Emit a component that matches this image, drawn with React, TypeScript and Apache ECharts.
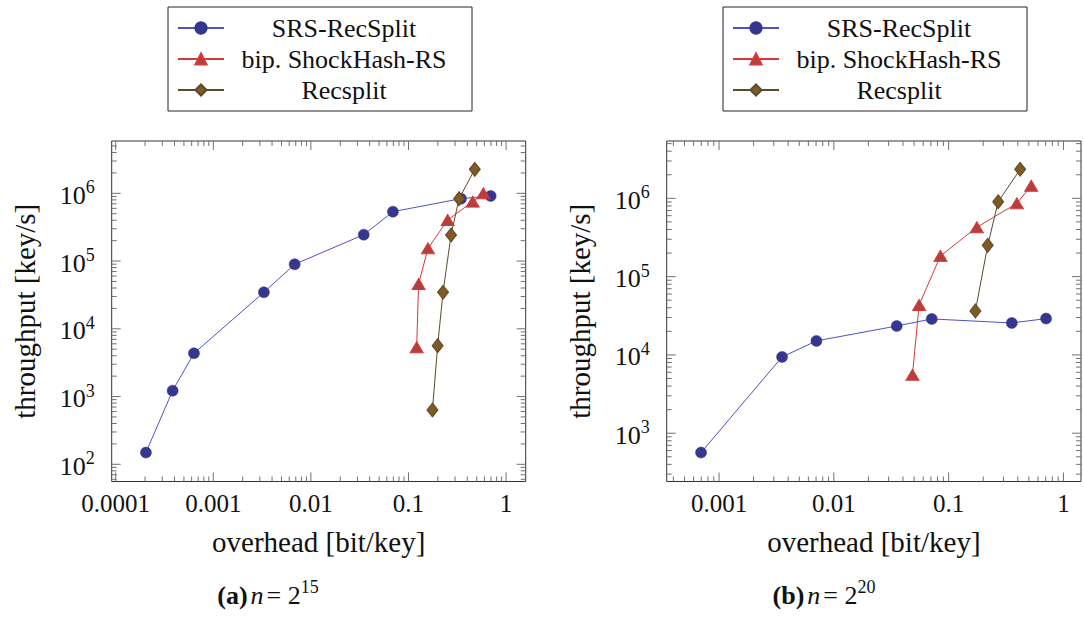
import React, { useEffect, useRef } from "react";
import * as echarts from "echarts";

// ---- series data: overhead [bit/key] vs throughput [key/s] ----
const seriesNames = ["SRS-RecSplit", "bip. ShockHash-RS", "Recsplit"];

// n = 2^15
const leftSrsX = [0.000204, 0.000383, 0.000634, 0.0033, 0.00682, 0.0348, 0.0693, 0.345, 0.695];
const leftSrsY = [149, 1222, 4350, 34600, 89600, 245000, 536000, 834000, 914000];
const leftShX = [0.1213, 0.127, 0.1585, 0.252, 0.455, 0.585];
const leftShY = [5330, 45900, 154000, 404000, 753000, 1000000];
const leftRsX = [0.176, 0.199, 0.226, 0.273, 0.33, 0.478];
const leftRsY = [634, 5640, 34600, 243000, 834000, 2260000];

// n = 2^20
const rightSrsX = [0.000697, 0.00354, 0.00705, 0.0353, 0.0713, 0.355, 0.706];
const rightSrsY = [566, 9420, 15100, 23400, 28800, 25600, 29100];
const rightShX = [0.0484, 0.0553, 0.0849, 0.176, 0.393, 0.524];
const rightShY = [5560, 43500, 184000, 427000, 863000, 1450000];
const rightRsX = [0.171, 0.219, 0.27, 0.42];
const rightRsY = [36500, 251000, 906000, 2350000];

// axis ranges
const leftXRange = [9.1e-5, 1.589];
const leftYRange = [55.7, 5.92e6];
const rightXRange = [3.5e-4, 1.422];
const rightYRange = [241.6, 5.4e6];

const captions = [
  { tag: "(a)", exp: "15" },
  { tag: "(b)", exp: "20" },
];

const FONT = "Liberation Serif";

const pairs = (xs: number[], ys: number[]) => xs.map((x, i) => [x, ys[i]]);

// decade (major) and 2..9 (minor) positions on a log axis
function logTicks(range: number[]) {
  const lo = Math.log10(range[0]);
  const hi = Math.log10(range[1]);
  const out: number[][] = [];
  for (let d = Math.floor(lo); d <= Math.ceil(hi); d++) {
    for (let k = 1; k <= 9; k++) {
      const v = k * Math.pow(10, d);
      const lv = Math.log10(v);
      if (lv < lo || lv > hi) continue;
      out.push([v, k === 1 ? 1 : 0]);
    }
  }
  return out;
}

const TICK_COLOR = "#707070";

function xTickSeries(idx: number, xr: number[], yr: number[]) {
  const yRef = Math.sqrt(yr[0] * yr[1]);
  return {
    type: "custom",
    xAxisIndex: idx,
    yAxisIndex: idx,
    silent: true,
    z: 1,
    encode: { x: 0, y: 1 },
    data: logTicks(xr).map(([v, m]) => [v, yRef, m]),
    renderItem: (params: any, api: any) => {
      const cs = params.coordSys;
      const px = api.coord([api.value(0), yRef])[0];
      const len = api.value(2) ? 9 : 5;
      const bottom = cs.y + cs.height;
      const style = { stroke: TICK_COLOR, lineWidth: 1 };
      return {
        type: "group",
        children: [
          { type: "line", shape: { x1: px, y1: bottom, x2: px, y2: bottom - len }, style },
          { type: "line", shape: { x1: px, y1: cs.y, x2: px, y2: cs.y + len }, style },
        ],
      };
    },
  };
}

function yTickSeries(idx: number, xr: number[], yr: number[]) {
  const xRef = Math.sqrt(xr[0] * xr[1]);
  return {
    type: "custom",
    xAxisIndex: idx,
    yAxisIndex: idx,
    silent: true,
    z: 1,
    encode: { x: 0, y: 1 },
    data: logTicks(yr).map(([v, m]) => [xRef, v, m]),
    renderItem: (params: any, api: any) => {
      const cs = params.coordSys;
      const py = api.coord([xRef, api.value(1)])[1];
      const len = api.value(2) ? 9 : 5;
      const right = cs.x + cs.width;
      const style = { stroke: TICK_COLOR, lineWidth: 1 };
      return {
        type: "group",
        children: [
          { type: "line", shape: { x1: cs.x, y1: py, x2: cs.x + len, y2: py }, style },
          { type: "line", shape: { x1: right, y1: py, x2: right - len, y2: py }, style },
        ],
      };
    },
  };
}

const styles = [
  {
    symbol: "circle",
    symbolSize: 11,
    lineStyle: { color: "#4f53c0", width: 1 },
    itemStyle: { color: "#35378f", borderColor: "#35378f", borderWidth: 0.5 },
  },
  {
    symbol: "triangle",
    symbolSize: [13, 11],
    lineStyle: { color: "#d6383c", width: 1 },
    itemStyle: { color: "#b3403a", borderColor: "#d6383c", borderWidth: 1 },
  },
  {
    symbol: "diamond",
    symbolSize: [11, 14],
    lineStyle: { color: "#5c4a2c", width: 1 },
    itemStyle: { color: "#7f5a22", borderColor: "#5c4a2c", borderWidth: 1 },
  },
];

function lineSeries(idx: number, k: number, data: number[][]) {
  return {
    type: "line",
    name: seriesNames[k],
    xAxisIndex: idx,
    yAxisIndex: idx,
    data,
    z: 3,
    showSymbol: true,
    ...styles[k],
  };
}

const xLabel = (v: number) => {
  const e = Math.round(Math.log10(v));
  return e >= 0 ? String(Math.pow(10, e)) : "0." + "0".repeat(-e - 1) + "1";
};
const yLabel = (v: number) => `{b|10}{s|${Math.round(Math.log10(v))}}`;

function xAxis(idx: number, range: number[]) {
  return {
    type: "log",
    logBase: 10,
    gridIndex: idx,
    min: range[0],
    max: range[1],
    name: "overhead [bit/key]",
    nameLocation: "middle",
    nameGap: 46,
    nameTextStyle: { fontFamily: FONT, fontSize: 29, color: "#111" },
    axisLine: { show: false },
    axisTick: { show: false },
    splitLine: { show: false },
    axisLabel: {
      showMinLabel: false,
      showMaxLabel: false,
      margin: 9,
      fontFamily: FONT,
      fontSize: 25,
      color: "#111",
      formatter: xLabel,
    },
  };
}

function yAxis(idx: number, range: number[]) {
  return {
    type: "log",
    logBase: 10,
    gridIndex: idx,
    min: range[0],
    max: range[1],
    name: "throughput [key/s]",
    nameLocation: "middle",
    nameGap: 72,
    nameTextStyle: { fontFamily: FONT, fontSize: 29, color: "#111" },
    axisLine: { show: false },
    axisTick: { show: false },
    splitLine: { show: false },
    axisLabel: {
      showMinLabel: false,
      showMaxLabel: false,
      margin: 17,
      color: "#111",
      fontFamily: FONT,
      formatter: yLabel,
      rich: {
        b: { fontFamily: FONT, fontSize: 26, color: "#111", verticalAlign: "bottom", lineHeight: 30 },
        s: { fontFamily: FONT, fontSize: 18, color: "#111", verticalAlign: "top", lineHeight: 30 },
      },
    },
  };
}

function legend(left: number) {
  return {
    left,
    top: 7,
    orient: "vertical",
    itemWidth: 46,
    itemHeight: 14,
    itemGap: 5,
    padding: [8, 13, 8, 9],
    borderColor: "#222",
    borderWidth: 1,
    selectedMode: false,
    data: seriesNames,
    formatter: (n: string) => `{c|${n}}`,
    textStyle: {
      fontFamily: FONT,
      rich: {
        c: { width: 230, align: "center", fontFamily: FONT, fontSize: 26, lineHeight: 30, color: "#111" },
      },
    },
  };
}

function caption(x: number, c: { tag: string; exp: string }) {
  return {
    type: "text",
    x,
    y: 593,
    style: {
      text: `{b|${c.tag}} {i|n} {r|= 2}{s|${c.exp}}`,
      align: "center",
      verticalAlign: "middle",
      fontFamily: FONT,
      rich: {
        b: { fontFamily: FONT, fontSize: 26, fontWeight: "bold", fill: "#111", verticalAlign: "bottom", lineHeight: 30 },
        i: { fontFamily: FONT, fontSize: 26, fontStyle: "italic", fill: "#111", verticalAlign: "bottom", lineHeight: 30 },
        r: { fontFamily: FONT, fontSize: 26, fill: "#111", verticalAlign: "bottom", lineHeight: 30 },
        s: { fontFamily: FONT, fontSize: 18, fill: "#111", verticalAlign: "top", lineHeight: 30 },
      },
    },
  };
}

export default function App() {
  const ref = useRef<HTMLDivElement>(null);

  useEffect(() => {
    if (!ref.current) return;
    const chart = echarts.init(ref.current, undefined, { renderer: "svg" });
    chart.setOption({
      animation: false,
      backgroundColor: "#ffffff",
      textStyle: { fontFamily: FONT },
      legend: [legend(168), legend(723)],
      grid: [
        { left: 111.7, top: 141, width: 414, height: 340.5, show: true, borderColor: "#333", borderWidth: 1 },
        { left: 666.7, top: 141, width: 414.3, height: 340.5, show: true, borderColor: "#333", borderWidth: 1 },
      ],
      xAxis: [xAxis(0, leftXRange), xAxis(1, rightXRange)],
      yAxis: [yAxis(0, leftYRange), yAxis(1, rightYRange)],
      series: [
        xTickSeries(0, leftXRange, leftYRange),
        yTickSeries(0, leftXRange, leftYRange),
        xTickSeries(1, rightXRange, rightYRange),
        yTickSeries(1, rightXRange, rightYRange),
        lineSeries(0, 0, pairs(leftSrsX, leftSrsY)),
        lineSeries(0, 1, pairs(leftShX, leftShY)),
        lineSeries(0, 2, pairs(leftRsX, leftRsY)),
        lineSeries(1, 0, pairs(rightSrsX, rightSrsY)),
        lineSeries(1, 1, pairs(rightShX, rightShY)),
        lineSeries(1, 2, pairs(rightRsX, rightRsY)),
      ],
      graphic: [caption(268, captions[0]), caption(824, captions[1])],
    });
    return () => chart.dispose();
  }, []);

  return (
    <div
      ref={ref}
      style={{ position: "fixed", left: 0, top: 0, width: 1084, height: 617, background: "#fff" }}
    />
  );
}
